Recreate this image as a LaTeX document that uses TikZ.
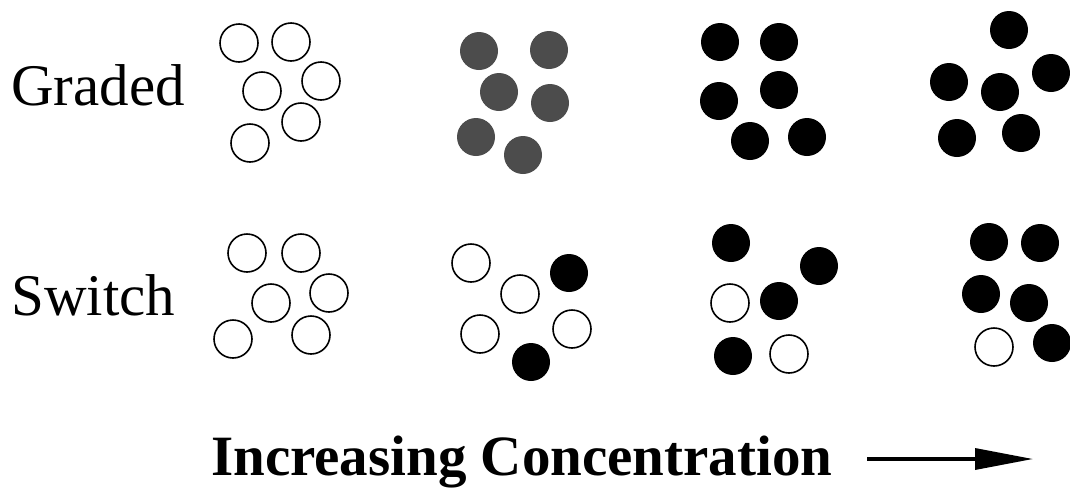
\documentclass[tikz,border=0pt]{standalone}
\usepackage{fontspec}
\setmainfont{Liberation Serif}
\usetikzlibrary{arrows.meta}

\tikzset{
  mol/.style={circle, inner sep=0pt, minimum size=38pt},
  off/.style={mol, draw=black, line width=1.6pt, fill=white},
  mid/.style={mol, fill=black!70},
  on/.style={mol, fill=black},
  rowlabel/.style={anchor=base west, inner sep=0pt, font=\fontsize{59}{60}\selectfont},
}

\begin{document}
\begin{tikzpicture}[x=1pt, y=-1pt, >={Triangle[length=58pt,width=21pt]}]
  \useasboundingbox (0,0) rectangle (1070,488);
  % row labels
  \node[rowlabel] (graded) at (11,105) {Graded};
  \node[rowlabel] (switch) at (11,315) {Switch};
  % graded row
  \node[off] (ga1) at (239,43) {};
  \node[off] (ga2) at (291,42) {};
  \node[off] (ga3) at (262,91) {};
  \node[off] (ga4) at (321,81) {};
  \node[off] (ga5) at (301,122) {};
  \node[off] (ga6) at (250,143) {};
  \node[mid] (gb1) at (479,51) {};
  \node[mid] (gb2) at (549,50) {};
  \node[mid] (gb3) at (499,92) {};
  \node[mid] (gb4) at (550,103) {};
  \node[mid] (gb5) at (476,137) {};
  \node[mid] (gb6) at (523,155) {};
  \node[on] (gc1) at (720,42) {};
  \node[on] (gc2) at (779,42) {};
  \node[on] (gc3) at (719,101) {};
  \node[on] (gc4) at (779,90) {};
  \node[on] (gc5) at (750,141) {};
  \node[on] (gc6) at (807,137) {};
  \node[on] (gd1) at (1009,30) {};
  \node[on] (gd2) at (949,82) {};
  \node[on] (gd3) at (1051,73) {};
  \node[on] (gd4) at (1000,92) {};
  \node[on] (gd5) at (957,138) {};
  \node[on] (gd6) at (1021,133) {};
  % switch row
  \node[off] (sa1) at (247,253) {};
  \node[off] (sa2) at (301,253) {};
  \node[off] (sa3) at (271,303) {};
  \node[off] (sa4) at (329,293) {};
  \node[off] (sa5) at (233,339) {};
  \node[off] (sa6) at (311,335) {};
  \node[off] (sb1) at (471,263) {};
  \node[on]  (sb2) at (569,273) {};
  \node[off] (sb3) at (520,294) {};
  \node[off] (sb4) at (480,334) {};
  \node[off] (sb5) at (572,329) {};
  \node[on]  (sb6) at (531,362) {};
  \node[on]  (sc1) at (731,243) {};
  \node[on]  (sc2) at (819,266) {};
  \node[off] (sc3) at (730,303) {};
  \node[on]  (sc4) at (779,301) {};
  \node[on]  (sc5) at (733,356) {};
  \node[off] (sc6) at (789,354) {};
  \node[on]  (sd1) at (989,242) {};
  \node[on]  (sd2) at (1040,243) {};
  \node[on]  (sd3) at (981,294) {};
  \node[on]  (sd4) at (1029,303) {};
  \node[off] (sd5) at (994,347) {};
  \node[on]  (sd6) at (1052,343) {};
  % axis caption
  \node[anchor=base west, inner sep=0pt, font=\fontsize{57}{58}\selectfont\bfseries]
    (conc) at (211,475) {Increasing Concentration};
  \coordinate (arrstart) at (867,459);
  \coordinate (arrend) at (1033,459);
  \draw[->, line width=3.4pt] (arrstart) -- (arrend);
\end{tikzpicture}
\end{document}
